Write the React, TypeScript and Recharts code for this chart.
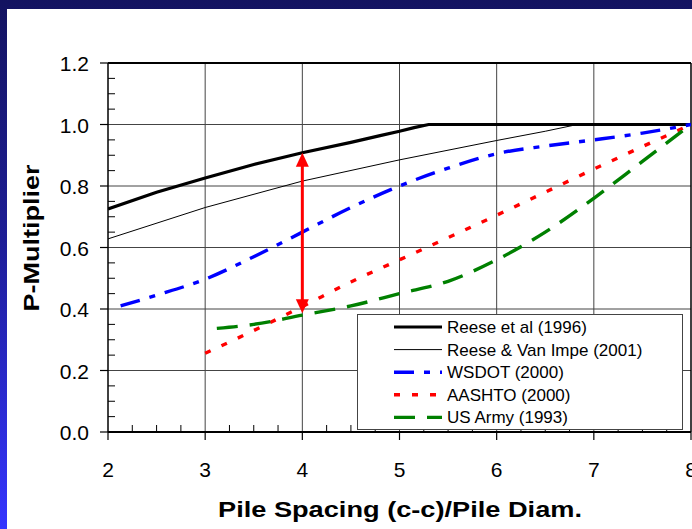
import React from 'react';
import { LineChart, Line, XAxis, YAxis, ReferenceLine, Legend } from 'recharts';

// values
const reese1996X = [2, 2.5, 3, 3.5, 4, 4.5, 4.8, 5, 5.15, 5.3, 6, 7, 8];
const reese1996Y = [0.725, 0.78, 0.826, 0.87, 0.908, 0.942, 0.964, 0.978, 0.99, 1.0, 1.0, 1.0, 1.0];

const vanImpeX = [2, 3, 4, 5, 6, 6.5, 6.83, 7, 8];
const vanImpeY = [0.628, 0.73, 0.816, 0.885, 0.948, 0.978, 1.0, 1.0, 1.0];

const wsdotX = [2.13, 2.5, 3, 3.5, 4, 4.5, 5, 5.5, 6, 6.5, 7, 7.5, 8];
const wsdotY = [0.41, 0.445, 0.497, 0.57, 0.65, 0.73, 0.8, 0.858, 0.905, 0.93, 0.95, 0.972, 1.0];

const aashtoX = [3, 3.5, 4, 4.5, 5, 5.5, 6, 6.5, 7, 7.5, 8];
const aashtoY = [0.256, 0.33, 0.408, 0.488, 0.56, 0.632, 0.705, 0.78, 0.855, 0.928, 1.0];

const usArmyX = [3.12, 3.5, 4, 4.5, 5, 5.5, 6, 6.5, 7, 7.5, 8];
const usArmyY = [0.337, 0.35, 0.38, 0.41, 0.45, 0.49, 0.56, 0.65, 0.76, 0.88, 1.0];

const xTicks = [2, 2.25, 2.5, 2.75, 3, 3.25, 3.5, 3.75, 4, 4.25, 4.5, 4.75, 5, 5.25, 5.5, 5.75, 6, 6.25, 6.5, 6.75, 7, 7.25, 7.5, 7.75, 8];
const yTicks = [0, 0.05, 0.1, 0.15, 0.2, 0.25, 0.3, 0.35, 0.4, 0.45, 0.5, 0.55, 0.6, 0.65, 0.7, 0.75, 0.8, 0.85, 0.9, 0.95, 1.0, 1.05, 1.1, 1.15, 1.2];
const xGrid = [3, 4, 5, 6, 7];
const yGrid = [0.2, 0.4, 0.6, 0.8, 1.0];

// red arrow at spacing 4 (gap between Reese and US Army)
const arrowX = 4;
const arrowTop = 0.908;
const arrowBottom = 0.386;

const zip = (xs: number[], ys: number[]) => xs.map((x, i) => ({ x, y: ys[i] }));

const series = [
  { name: 'Reese et al (1996)', data: zip(reese1996X, reese1996Y), color: '#000000', width: 3.2, dash: undefined, curve: 'linear' },
  { name: 'Reese & Van Impe (2001)', data: zip(vanImpeX, vanImpeY), color: '#000000', width: 1, dash: undefined, curve: 'linear' },
  { name: 'WSDOT (2000)', data: zip(wsdotX, wsdotY), color: '#0000ff', width: 3.4, dash: '20 10 6 10', curve: 'monotone' },
  { name: 'AASHTO (2000)', data: zip(aashtoX, aashtoY), color: '#ff0000', width: 3.4, dash: '6 12', curve: 'monotone' },
  { name: 'US Army (1993)', data: zip(usArmyX, usArmyY), color: '#008000', width: 3.4, dash: '21 12', curve: 'monotone' },
];

const FONT = '"Liberation Sans", Arial, sans-serif';

const XTick = (props: any) => {
  const { x, y, payload } = props;
  const v = payload.value;
  const axisY = y - 8;
  if (Math.abs(v - Math.round(v)) < 1e-6) {
    return (
      <g>
        <line x1={x} x2={x} y1={axisY} y2={axisY + 8} stroke="#000" strokeWidth={1.2} />
        <text x={x} y={axisY + 45} textAnchor="middle" fontSize={21} fontFamily={FONT} fill="#000">
          {v}
        </text>
      </g>
    );
  }
  return <line x1={x} x2={x} y1={axisY} y2={axisY - 7} stroke="#000" strokeWidth={1} />;
};

const YTick = (props: any) => {
  const { x, y, payload } = props;
  const v = payload.value;
  const axisX = x + 8;
  if (Math.abs(v * 5 - Math.round(v * 5)) < 1e-6) {
    return (
      <g>
        <line x1={axisX - 8} x2={axisX} y1={y} y2={y} stroke="#000" strokeWidth={1.2} />
        <text x={axisX - 19} y={y + 8} textAnchor="end" fontSize={21} fontFamily={FONT} fill="#000">
          {v.toFixed(1)}
        </text>
      </g>
    );
  }
  return <line x1={axisX} x2={axisX + 7} y1={y} y2={y} stroke="#000" strokeWidth={1} />;
};

const Arrow = (p: any) => {
  const { x1, y1, y2 } = p;
  const top = Math.min(y1, y2);
  const bot = Math.max(y1, y2);
  const h = 14;
  const w = 6.5;
  return (
    <g>
      <line x1={x1} x2={x1} y1={top + h - 1} y2={bot - h + 1} stroke="#ff0000" strokeWidth={3} />
      <polygon points={`${x1},${top} ${x1 - w},${top + h} ${x1 + w},${top + h}`} fill="#ff0000" />
      <polygon points={`${x1},${bot} ${x1 - w},${bot - h} ${x1 + w},${bot - h}`} fill="#ff0000" />
    </g>
  );
};

const LegendBox = () => (
  <div
    style={{
      width: 326,
      height: 116,
      border: '1.5px solid #444',
      background: '#fff',
      boxSizing: 'border-box',
      fontFamily: FONT,
    }}
  >
    <svg width={323} height={113}>
      {series.map((s, i) => {
        const cy = 12 + i * 22.6;
        return (
          <g key={s.name}>
            <line
              x1={36}
              x2={84}
              y1={cy}
              y2={cy}
              stroke={s.color}
              strokeWidth={s.width}
              strokeDasharray={s.dash}
            />
            <text x={89} y={cy + 6} fontSize={17} fill="#000" fontFamily={FONT}>
              {s.name}
            </text>
          </g>
        );
      })}
    </svg>
  </div>
);

const App: React.FC = () => {
  return (
    <div
      style={{
        position: 'absolute',
        left: 0,
        top: 0,
        width: 692,
        height: 529,
        background: 'linear-gradient(180deg, #131360 0%, #1e1e96 45%, #3535ff 100%)',
        overflow: 'hidden',
      }}
    >
      <div style={{ position: 'absolute', left: 7, top: 9, width: 685, height: 520, background: '#fff' }} />
      <div style={{ position: 'absolute', left: 0, top: 0 }}>
        <LineChart width={692} height={529} margin={{ top: 63, right: 1, bottom: 67, left: 48 }}>
          <XAxis
            type="number"
            dataKey="x"
            domain={[2, 8]}
            ticks={xTicks}
            interval={0}
            height={30}
            tick={<XTick />}
            tickLine={false}
            tickSize={8}
            tickMargin={0}
            axisLine={{ stroke: '#000', strokeWidth: 2 }}
            allowDataOverflow
          />
          <YAxis
            type="number"
            dataKey="y"
            domain={[0, 1.2]}
            ticks={yTicks}
            interval={0}
            width={60}
            tick={<YTick />}
            tickLine={false}
            tickSize={8}
            tickMargin={0}
            axisLine={{ stroke: '#000', strokeWidth: 1.5 }}
            allowDataOverflow
          />
          {xGrid.map((v) => (
            <ReferenceLine key={'gx' + v} x={v} stroke="#444" strokeWidth={1} />
          ))}
          {yGrid.map((v) => (
            <ReferenceLine key={'gy' + v} y={v} stroke="#444" strokeWidth={1} />
          ))}
          <ReferenceLine y={1.2} stroke="#000" strokeWidth={2} />
          <ReferenceLine x={8} stroke="#000" strokeWidth={1.5} />
          <Legend
            layout="vertical"
            align="center"
            verticalAlign="middle"
            content={() => <LegendBox />}
            wrapperStyle={{ position: 'absolute', left: 357, top: 314, width: 326, height: 116 }}
          />
          {series.map((s) => (
            <Line
              key={s.name}
              data={s.data}
              dataKey="y"
              name={s.name}
              type={s.curve as any}
              stroke={s.color}
              strokeWidth={s.width}
              strokeDasharray={s.dash}
              dot={false}
              activeDot={false}
              isAnimationActive={false}
            />
          ))}
          <ReferenceLine
            segment={[
              { x: arrowX, y: arrowTop },
              { x: arrowX, y: arrowBottom },
            ]}
            shape={<Arrow />}
          />
        </LineChart>
      </div>
      <svg
        width={692}
        height={529}
        style={{ position: 'absolute', left: 0, top: 0, pointerEvents: 'none' }}
      >
        <text
          x={400}
          y={517}
          textAnchor="middle"
          fontSize={22}
          fontWeight="bold"
          fontFamily={FONT}
          textLength={364}
          lengthAdjust="spacingAndGlyphs"
        >
          Pile Spacing (c-c)/Pile Diam.
        </text>
        <text
          x={39}
          y={238}
          transform="rotate(-90 39 238)"
          textAnchor="middle"
          fontSize={22}
          fontWeight="bold"
          fontFamily={FONT}
          textLength={147}
          lengthAdjust="spacingAndGlyphs"
        >
          P-Multiplier
        </text>
      </svg>
    </div>
  );
};

export default App;
